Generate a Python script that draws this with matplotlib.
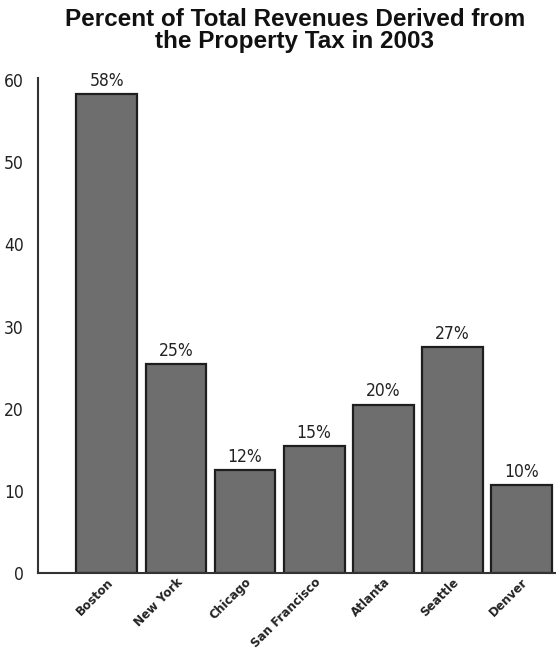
import matplotlib
matplotlib.use("Agg")
import matplotlib.pyplot as plt

cities = ["Boston", "New York", "Chicago", "San Francisco", "Atlanta", "Seattle", "Denver"]
heights = [58.3, 25.4, 12.5, 15.5, 20.5, 27.5, 10.7]
labels = ["58%", "25%", "12%", "15%", "20%", "27%", "10%"]
yticks = [0, 10, 20, 30, 40, 50, 60]

fig = plt.figure(figsize=(5.56, 6.54), dpi=100)
ax = fig.add_axes([0.068, 0.124, 0.932, 0.757])

x = range(len(cities))
bars = ax.bar(x, heights, width=0.88, color="#6e6e6e", edgecolor="#1e1e1e", linewidth=1.6)

for b, txt in zip(bars, labels):
    ax.text(b.get_x() + b.get_width() / 2, b.get_height() + 0.5, txt,
            ha="center", va="bottom", fontsize=12.5, family="DejaVu Sans",
            fontstretch="condensed", color="#222222")

ax.set_xlim(-1.0, 6.5)
ax.set_ylim(0, 60.3)
ax.set_yticks(yticks)
ax.set_yticklabels([str(v) for v in yticks], fontsize=12.5, family="DejaVu Sans",
                   fontstretch="condensed", color="#222222")
ax.set_xticks(list(x))
ax.set_xticklabels(cities, rotation=45, ha="right", rotation_mode="anchor",
                   fontsize=9.5, fontweight="bold", family="DejaVu Sans",
                   fontstretch="condensed", color="#222222")
ax.tick_params(axis="both", length=0)
ax.tick_params(axis="y", pad=10)
ax.tick_params(axis="x", pad=2)

for s in ["top", "right"]:
    ax.spines[s].set_visible(False)
for s in ["left", "bottom"]:
    ax.spines[s].set_color("#333333")
    ax.spines[s].set_linewidth(1.5)

fig.text(0.53, 0.988, "Percent of Total Revenues Derived from\nthe Property Tax in 2003",
         ha="center", va="top", fontsize=17.5, fontweight="bold",
         family="Liberation Sans", color="#111111", linespacing=0.95)

fig.savefig("out.png", dpi=100)
